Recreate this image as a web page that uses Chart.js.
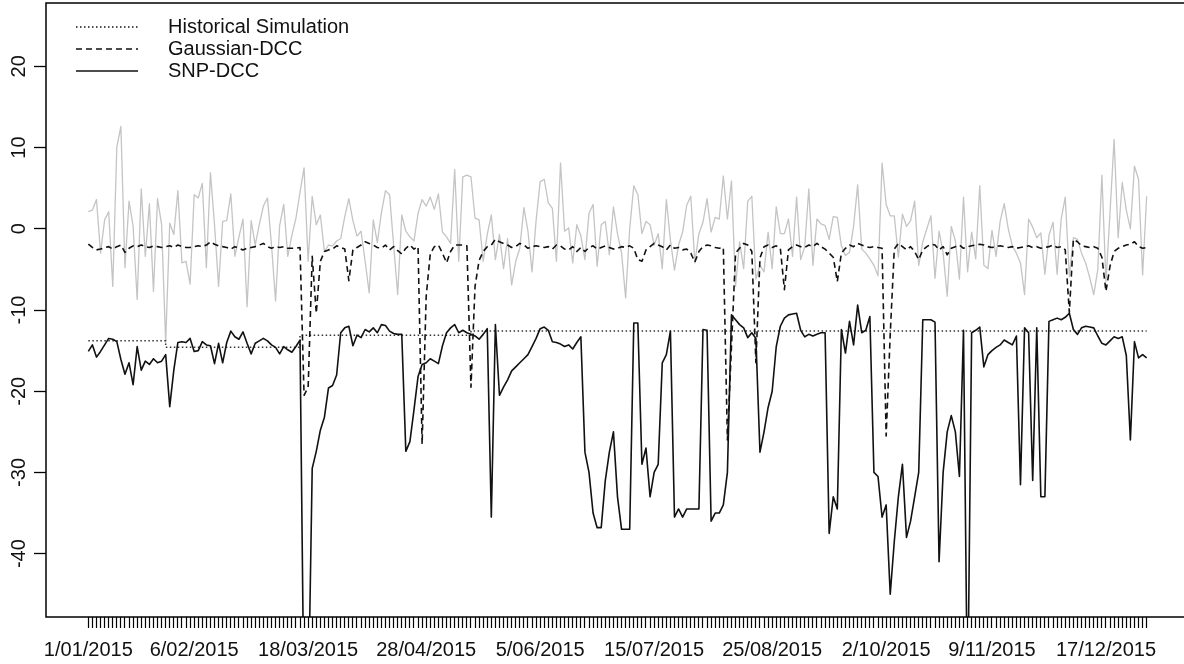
<!DOCTYPE html>
<html>
<head>
<meta charset="utf-8">
<script src="https://cdn.jsdelivr.net/npm/chart.js@4.4.1/dist/chart.umd.min.js"></script>
<style>
  html, body { margin: 0; padding: 0; background: #fff; overflow: hidden; }
  #wrap { width: 1200px; height: 664px; }
</style>
</head>
<body>
<div id="wrap"><canvas id="chart"></canvas></div>
<script>
// trading days of 2015 (weekdays), one tick per day
const dates = [];
for (let d = new Date(2015, 0, 1); d.getFullYear() === 2015; d.setDate(d.getDate() + 1)) {
  const wd = d.getDay();
  if (wd !== 0 && wd !== 6) {
    dates.push(d.getDate() + "/" + String(d.getMonth() + 1).padStart(2, "0") + "/2015");
  }
}

const shownLabels = ["1/01/2015", "6/02/2015", "18/03/2015", "28/04/2015", "5/06/2015",
  "15/07/2015", "25/08/2015", "2/10/2015", "9/11/2015", "17/12/2015"];
const yTicks = [-40, -30, -20, -10, 0, 10, 20];

// daily returns (grey line)
const returns = [
  2.1, 2.3, 3.6, -3.0, 1.1, 2.1, -7.1, 10.1, 12.6, -4.8,
  3.4, 0.3, -8.7, 4.9, -3.4, 3.1, -7.7, 3.7, 0.5, -14.0,
  0.7, -0.7, 4.7, -4.2, -4.0, -6.8, 4.2, 3.8, 5.6, -4.8,
  6.9, 0.5, -7.1, 0.9, 1.0, 4.3, -3.4, -1.0, 1.2, -9.6,
  1.0, -2.0, 0.5, 2.8, 3.8, -2.0, -8.9, 0.4, 3.0, -3.4,
  -0.8, 1.3, 4.5, 7.5, -4.0, 4.0, 0.5, 1.7, -2.8, -2.0,
  -2.1, -1.5, -1.2, 1.5, 3.7, 1.0, -0.9, -0.3, -4.0, -7.9,
  1.1, -1.7, 2.0, 4.7, 4.2, -2.0, -8.1, 1.7, -0.3, -1.0,
  -1.5, 1.9, 3.6, 2.8, 3.9, 2.4, 4.3, -0.4, -1.0, -1.8,
  7.3, -4.0, 6.4, 6.6, 6.4, 1.3, 1.1, -4.0, -0.7, 1.7,
  -3.8, -0.7, -4.9, -1.2, -6.9, -4.0, -2.4, 2.6, -0.3, -5.3,
  1.0, 5.8, 6.1, 3.2, 2.5, -4.0, 8.1, -0.3, 0.1, -4.2,
  0.5, -0.9, -3.8, 1.9, 3.0, -4.6, 0.5, 0.9, -3.2, 2.7,
  -0.6, -3.0, -8.5, 0.0, 5.3, 4.2, -0.6, 0.9, 0.5, -2.0,
  -0.6, -4.9, 3.6, -1.4, -5.1, -2.0, -0.4, 2.9, 4.0, -4.2,
  -0.6, 0.8, 3.7, -0.4, 1.4, 1.2, 6.5, 1.2, 5.9, -7.1,
  -1.6, -4.9, 3.4, 4.0, -6.2, -4.5, -5.3, -0.4, -4.9, 2.7,
  -0.6, -0.6, 1.2, -3.4, 3.9, -3.8, -2.2, 4.9, -4.5, 1.2,
  0.6, 0.4, -1.3, 1.5, 1.4, -2.1, -3.3, -2.9, 0.3, 5.4,
  -2.5, -3.0, -3.7, -4.5, -5.8, 8.1, 3.0, 1.6, 1.6, -3.5,
  1.8, 0.3, 1.0, 3.4, -4.5, -1.6, 0.0, 1.6, -6.1, -0.3,
  -3.0, -8.3, 0.3, -1.5, -6.2, 3.9, -5.3, -0.4, -3.7, 5.3,
  -4.5, -4.9, -0.2, -3.4, 0.9, 3.1, 0.0, -2.1, -3.0, -4.2,
  -8.1, 1.2, 0.2, -1.1, -0.5, -5.6, -0.8, 0.8, -5.6, 1.2,
  3.9, -5.9, -1.1, -1.3, -3.0, -4.2, -6.0, -8.1, -5.0, 6.6,
  -6.5, 2.0, 11.0, -1.1, 5.7, 2.3, 0.0, 7.7, 6.1, -5.7,
  4.0
];

// Historical Simulation: level changes (day index, value)
const hsDays = [0, 19, 52, 94, 260];
const hsValues = [-13.8, -14.6, -13.1, -12.6, -12.6];

const gaussianDcc = [
  -1.9, -2.3, -2.6, -2.5, -2.3, -2.2, -2.5, -2.2, -2.0, -2.9,
  -2.4, -2.1, -2.2, -2.0, -2.2, -2.3, -2.1, -2.2, -2.3, -2.2,
  -2.1, -2.3, -2.0, -2.2, -2.3, -2.3, -2.2, -2.1, -2.2, -2.0,
  -1.6, -1.9, -2.1, -2.2, -2.3, -2.5, -2.2, -2.4, -2.6, -2.4,
  -2.3, -2.2, -2.0, -1.8, -2.2, -2.4, -2.2, -2.3, -2.2, -2.4,
  -2.4, -2.4, -2.3, -20.5, -19.5, -3.4, -10.4, -4.0, -2.8, -2.6,
  -2.5, -2.1, -2.3, -2.5, -6.4, -2.6, -2.3, -2.0, -1.6, -1.8,
  -2.0, -2.3, -2.4, -2.0, -2.6, -2.2, -2.7, -3.1, -2.4, -2.0,
  -2.5, -2.2, -26.5, -8.3, -3.1, -2.2, -2.0, -3.0, -4.2, -2.8,
  -2.0, -2.0, -2.0, -2.1, -19.5, -7.1, -3.9, -2.8, -2.2, -2.0,
  -1.3, -1.6, -1.8, -2.0, -2.3, -2.2, -1.8, -2.0, -2.4, -2.2,
  -2.1, -2.2, -2.3, -2.2, -2.5, -2.0, -2.1, -2.5, -2.6, -2.2,
  -2.8, -2.3, -2.8, -2.3, -2.1, -2.5, -2.3, -2.1, -2.3, -2.5,
  -2.4, -2.2, -2.3, -2.1, -2.4, -3.8, -4.0, -2.6, -2.2, -1.8,
  -2.0, -2.2, -2.6, -2.0, -2.4, -2.3, -2.6, -2.5, -3.0, -4.1,
  -2.8, -2.2, -2.0, -2.1, -2.3, -2.4, -2.3, -26.0, -14.5, -3.0,
  -2.4, -1.8, -2.0, -2.8, -16.5, -3.6, -2.2, -2.0, -2.3, -2.1,
  -2.4, -7.5, -2.6, -2.2, -2.0, -2.2, -2.3, -2.0, -2.2, -1.8,
  -2.2, -2.5, -3.0, -3.5, -6.5, -3.0, -2.4, -2.0, -2.2, -1.8,
  -2.0, -2.2, -2.3, -2.2, -2.3, -2.4, -25.5, -13.0, -2.5, -1.8,
  -2.2, -2.6, -2.2, -2.8, -3.8, -2.6, -2.2, -1.9, -2.0, -2.6,
  -2.2, -3.2, -2.4, -2.2, -2.0, -2.4, -2.2, -2.1, -2.0, -1.9,
  -2.0, -2.2, -2.3, -2.2, -2.1, -2.2, -2.3, -2.2, -2.4, -2.3,
  -2.2, -2.1, -2.3, -2.2, -2.4, -2.3, -2.2, -2.0, -2.3, -2.2,
  -2.6, -10.3, -1.3, -1.6, -2.1, -2.2, -2.3, -2.2, -2.4, -3.5,
  -7.7, -4.6, -2.8, -2.4, -2.2, -2.0, -1.9, -1.6, -2.2, -2.4,
  -2.3
];

const snpDcc = [
  -15.1, -14.3, -15.8, -15.1, -14.3, -13.5, -13.6, -13.9, -16.1, -17.9,
  -16.5, -19.2, -14.5, -17.4, -16.3, -16.7, -16.0, -16.5, -16.3, -15.5,
  -21.9, -17.4, -14.0, -13.9, -14.0, -13.5, -15.1, -15.0, -13.9, -14.3,
  -14.4, -16.6, -14.1, -16.5, -14.0, -12.6, -13.3, -13.6, -12.7, -14.1,
  -15.4, -14.1, -13.8, -13.5, -13.8, -14.3, -14.6, -15.4, -14.5, -14.9,
  -15.2, -14.5, -13.7, -60.0, -60.0, -29.5, -27.4, -24.8, -23.2, -19.6,
  -19.3, -18.0, -12.8, -12.2, -12.0, -14.4, -13.1, -13.4, -12.4, -12.7,
  -12.2, -12.8, -11.8, -11.9, -12.6, -12.9, -13.0, -13.0, -27.4, -26.2,
  -22.3, -18.2, -16.7, -16.5, -16.0, -16.3, -16.6, -14.4, -12.8, -12.2,
  -11.8, -12.8, -12.5, -12.8, -13.0, -13.2, -13.6, -13.0, -12.3, -35.5,
  -11.8, -20.5, -19.5, -18.6, -17.5, -17.0, -16.5, -16.0, -15.5, -14.5,
  -13.5, -12.3, -12.1, -12.5, -13.9, -14.0, -14.2, -14.5, -14.3, -14.8,
  -14.0, -13.3, -27.5, -30.0, -35.0, -36.8, -36.8, -31.0, -27.5, -25.0,
  -33.0, -37.0, -37.0, -37.0, -11.6, -11.6, -29.0, -27.0, -33.0, -30.0,
  -29.0, -16.5, -15.5, -12.6, -35.5, -34.5, -35.5, -34.5, -34.5, -34.5,
  -34.5, -12.4, -12.5, -36.0, -35.0, -35.0, -34.0, -30.0, -10.6, -11.2,
  -11.8, -12.2, -13.4, -12.8, -13.5, -27.5, -25.0, -22.0, -20.0, -14.5,
  -12.0, -11.0, -10.6, -10.5, -10.4, -12.5, -13.3, -13.0, -13.2, -13.0,
  -12.8, -12.8, -37.5, -33.0, -34.5, -12.4, -15.3, -11.4, -14.3, -9.4,
  -12.8, -12.5, -10.8, -30.0, -30.5, -35.5, -34.0, -45.0, -38.5, -33.0,
  -29.0, -38.0, -36.0, -33.0, -30.0, -11.2, -11.2, -11.2, -11.5, -41.0,
  -30.0, -25.0, -23.0, -25.0, -30.5, -12.5, -60.0, -12.8, -12.5, -12.1,
  -17.0, -15.5, -15.0, -14.6, -14.3, -13.7, -14.0, -14.3, -13.2, -31.5,
  -12.2, -12.8, -31.0, -12.2, -33.0, -33.0, -11.4, -11.2, -11.0, -11.2,
  -10.9, -10.4, -12.4, -13.0, -12.2, -12.0, -12.1, -12.2, -13.2, -14.1,
  -14.3, -13.8, -13.3, -13.5, -13.3, -15.6, -26.0, -13.9, -15.9, -15.5,
  -15.9
];

const FONT = "Liberation Sans, Arial, sans-serif";

function pts(arr) {
  return arr.map(function (v, i) { return { x: i, y: v }; });
}

const rFrame = {
  id: "rFrame",
  afterDraw: function (chart) {
    const ctx = chart.ctx;
    const a = chart.chartArea;
    const x = chart.scales.x;
    const y = chart.scales.y;
    ctx.save();
    ctx.strokeStyle = "#000";
    ctx.lineWidth = 1.5;
    ctx.setLineDash([]);
    ctx.strokeRect(a.left, a.top, a.right - a.left, a.bottom - a.top);

    ctx.font = "20px " + FONT;
    ctx.fillStyle = "#111";
    ctx.textAlign = "center";
    ctx.textBaseline = "middle";

    // x labels under the tick marks
    dates.forEach(function (d, i) {
      if (shownLabels.indexOf(d) >= 0) {
        ctx.fillText(d, x.getPixelForValue(i), 650);
      }
    });

    // y labels, rotated like base R
    yTicks.forEach(function (v) {
      ctx.save();
      ctx.translate(19, y.getPixelForValue(v));
      ctx.rotate(-Math.PI / 2);
      ctx.fillText(String(v), 0, 0);
      ctx.restore();
    });

    // legend, no box
    const order = ["Historical Simulation", "Gaussian-DCC", "SNP-DCC"];
    ctx.textAlign = "left";
    order.forEach(function (name, k) {
      const ds = chart.data.datasets.find(function (d) { return d.label === name; });
      const ly = 27 + k * 22;
      ctx.beginPath();
      ctx.strokeStyle = "#111";
      ctx.lineWidth = ds.borderWidth;
      ctx.setLineDash(ds.borderDash || []);
      ctx.moveTo(76, ly);
      ctx.lineTo(138, ly);
      ctx.stroke();
      ctx.setLineDash([]);
      ctx.fillText(name, 168, ly);
    });
    ctx.restore();
  }
};

new Chart(document.getElementById("chart"), {
  type: "line",
  data: {
    datasets: [
      { label: "SNP-DCC", data: pts(snpDcc), borderColor: "#111", borderWidth: 1.6 },
      { label: "Gaussian-DCC", data: pts(gaussianDcc), borderColor: "#111", borderWidth: 1.6, borderDash: [6, 4] },
      { label: "Historical Simulation", data: hsDays.map(function (d, i) { return { x: d, y: hsValues[i] }; }),
        stepped: true, borderColor: "#333", borderWidth: 1.5, borderDash: [1.5, 2.5] },
      { label: "Returns", data: pts(returns), borderColor: "#c4c4c4", borderWidth: 1.3 }
    ]
  },
  options: {
    responsive: true,
    maintainAspectRatio: false,
    animation: false,
    layout: { padding: { left: 34, right: 11, top: 3, bottom: 36 } },
    elements: {
      point: { radius: 0 },
      line: { tension: 0, fill: false, borderJoinStyle: "round" }
    },
    plugins: { legend: { display: false }, tooltip: { enabled: false } },
    scales: {
      x: {
        type: "linear",
        bounds: "data",
        min: -10.4,
        max: 270.4,
        afterBuildTicks: function (scale) {
          scale.ticks = dates.map(function (d, i) { return { value: i }; });
        },
        ticks: { display: false, autoSkip: false },
        grid: { drawOnChartArea: false, drawTicks: true, tickLength: 11, tickColor: "#000", tickWidth: 1.2 },
        border: { display: false }
      },
      y: {
        type: "linear",
        bounds: "data",
        min: -47.8,
        max: 27.8,
        afterBuildTicks: function (scale) {
          scale.ticks = yTicks.map(function (v) { return { value: v }; });
        },
        ticks: { display: false },
        grid: { drawOnChartArea: false, drawTicks: true, tickLength: 12, tickColor: "#000", tickWidth: 1.3 },
        border: { display: false }
      }
    }
  },
  plugins: [rFrame]
});
</script>
</body>
</html>
